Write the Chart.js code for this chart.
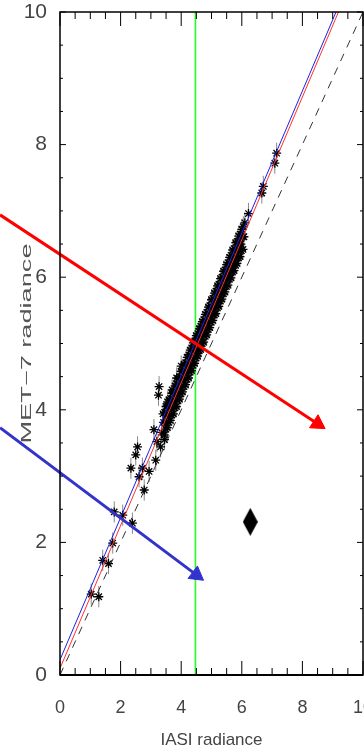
<!DOCTYPE html>
<html>
<head>
<meta charset="utf-8">
<script src="https://cdn.jsdelivr.net/npm/chart.js@4.4.1/dist/chart.umd.min.js"></script>
<style>
    html, body { margin: 0; padding: 0; background: #fff; overflow: hidden; }
</style>
</head>
<body>
<canvas id="c" width="364" height="751"></canvas>
<script>
// collocated IASI / MET-7 radiances
var iasiX = [
    // sparse low end
    1.03, 1.28, 1.41, 1.60, 1.74, 1.79, 2.07, 2.39, 2.34, 2.50, 2.56, 2.61, 2.72, 2.78, 2.94,
    3.10, 3.16, 3.20, 3.27, 3.32, 3.35, 3.25, 3.45,
    // dense band, upper edge
    3.40, 3.45, 3.50, 3.55, 3.60, 3.65, 3.70, 3.75, 3.80, 3.85, 3.90, 3.95, 4.00, 4.05, 4.10,
    4.15, 4.20, 4.25, 4.30, 4.35, 4.40, 4.45, 4.50, 4.55, 4.60, 4.65, 4.70, 4.75, 4.80, 4.85,
    4.90, 4.95, 5.00, 5.05, 5.10, 5.15, 5.20, 5.25, 5.30, 5.35, 5.40, 5.45, 5.50, 5.55, 5.60,
    5.65, 5.70, 5.75, 5.80, 5.85, 5.90, 5.95, 6.00, 6.05, 6.10,
    // dense band, middle
    3.42, 3.47, 3.52, 3.57, 3.62, 3.67, 3.72, 3.77, 3.82, 3.87, 3.92, 3.97, 4.02, 4.07, 4.12,
    4.17, 4.22, 4.27, 4.32, 4.37, 4.42, 4.47, 4.52, 4.57, 4.62, 4.67, 4.72, 4.77, 4.82, 4.87,
    4.92, 4.97, 5.02, 5.07, 5.12, 5.17, 5.22, 5.27, 5.32, 5.37, 5.42, 5.47, 5.52, 5.57, 5.62,
    5.67, 5.72, 5.77, 5.82, 5.87, 5.92, 5.97, 6.02, 6.07,
    // dense band, lower edge
    3.44, 3.49, 3.54, 3.59, 3.64, 3.69, 3.74, 3.79, 3.84, 3.89, 3.94, 3.99, 4.04, 4.09, 4.14,
    4.19, 4.24, 4.29, 4.34, 4.39, 4.44, 4.49, 4.54, 4.59, 4.64, 4.69, 4.74, 4.79, 4.84, 4.89,
    4.94, 4.99, 5.04, 5.09, 5.14, 5.19, 5.24, 5.29, 5.34, 5.39, 5.44, 5.49, 5.54, 5.59, 5.64,
    5.69, 5.74, 5.79, 5.84, 5.89, 5.94, 5.99, 6.04,
    // blob at the crossing and left-hand scatter of the band
    4.45, 4.50, 4.55, 4.60, 3.55, 3.70, 3.85, 4.00,
    // sparse high end
    6.22, 6.66, 6.71, 7.09, 7.15
];
var metY = [
    1.22, 1.18, 1.73, 1.68, 1.99, 2.46, 2.41, 2.29, 3.12, 3.32, 3.44, 2.99, 3.12, 2.79, 3.07,
    3.70, 3.24, 3.52, 4.35, 3.44, 3.66, 4.22, 3.55,

    3.94, 3.96, 4.05, 4.06, 4.15, 4.17, 4.25, 4.28, 4.36, 4.39, 4.47, 4.50, 4.58, 4.60, 4.69,
    4.71, 4.79, 4.83, 4.90, 4.93, 5.01, 5.03, 5.12, 5.15, 5.22, 5.26, 5.33, 5.36, 5.44, 5.47,
    5.55, 5.57, 5.66, 5.68, 5.76, 5.79, 5.87, 5.89, 5.98, 6.00, 6.09, 6.11, 6.19, 6.22, 6.30,
    6.33, 6.41, 6.43, 6.52, 6.54, 6.62, 6.65, 6.72, 6.76, 6.82,

    3.81, 3.80, 3.92, 3.91, 4.03, 4.02, 4.13, 4.13, 4.24, 4.24, 4.35, 4.34, 4.46, 4.45, 4.57,
    4.56, 4.67, 4.67, 4.78, 4.77, 4.89, 4.88, 5.00, 4.99, 5.10, 5.10, 5.21, 5.21, 5.32, 5.31,
    5.43, 5.42, 5.54, 5.53, 5.64, 5.64, 5.75, 5.74, 5.86, 5.85, 5.97, 5.96, 6.07, 6.07, 6.18,
    6.18, 6.29, 6.28, 6.40, 6.39, 6.50, 6.50, 6.61, 6.61,

    3.62, 3.71, 3.73, 3.81, 3.84, 3.92, 3.94, 4.03, 4.05, 4.14, 4.16, 4.24, 4.27, 4.35, 4.38,
    4.46, 4.48, 4.57, 4.59, 4.67, 4.70, 4.78, 4.81, 4.89, 4.91, 5.00, 5.02, 5.11, 5.13, 5.21,
    5.24, 5.32, 5.35, 5.43, 5.45, 5.54, 5.56, 5.64, 5.67, 5.75, 5.78, 5.86, 5.88, 5.97, 5.99,
    6.08, 6.10, 6.18, 6.21, 6.29, 6.31, 6.40, 6.42,

    4.98, 5.08, 4.86, 5.18, 4.12, 4.30, 4.48, 4.66,

    6.96, 7.27, 7.37, 7.72, 7.87
];
var ERR = 0.16;   // half length of the grey error bars

// regression lines and 1:1 reference
var redFitX = [0, 9.19];
var redFitY = [0.10, 10];
var blueFitX = [0, 9.11];
var blueFitY = [0.23, 10];
var oneToOneX = [0, 10];
var oneToOneY = [0, 10];
var greenX = [4.47, 4.47];
var greenY = [0, 10];

// annotation arrows (last point carries the head)
var redArrowX = [-1.98, 8.50];
var redArrowY = [6.94, 3.79];
var blueArrowX = [-1.98, 4.50];
var blueArrowY = [3.73, 1.51];
var diamondX = [6.28];
var diamondY = [2.31];

var xTicks = [0, 2, 4, 6, 8, 10];
var yTicks = [0, 2, 4, 6, 8, 10];
var X_TITLE = 'IASI radiance';
var Y_TITLE = 'MET\u22127 radiance';
var FONT = '"Liberation Sans", Arial, sans-serif';

var pairs = function ( xs, ys ) {
    return xs.map( function ( x, i ) { return { x: x, y: ys[ i ] }; } );
};

// tall black diamond marker
var diamond = document.createElement( 'canvas' );
diamond.width = 15;
diamond.height = 28;
var dctx = diamond.getContext( '2d' );
dctx.fillStyle = '#000';
dctx.beginPath();
dctx.moveTo( 7.5, 0 );
dctx.lineTo( 15, 14 );
dctx.lineTo( 7.5, 28 );
dctx.lineTo( 0, 14 );
dctx.closePath();
dctx.fill();

var errorBars = {
    id: 'errorBars',
    beforeDatasetsDraw: function ( chart ) {
        var ctx = chart.ctx, x = chart.scales.x, y = chart.scales.y;
        ctx.save();
        ctx.strokeStyle = '#8a8a8a';
        ctx.lineWidth = 1;
        ctx.beginPath();
        for ( var i = 0; i < iasiX.length; i++ ) {
            var px = x.getPixelForValue( iasiX[ i ] );
            ctx.moveTo( px, y.getPixelForValue( metY[ i ] - ERR ) );
            ctx.lineTo( px, y.getPixelForValue( metY[ i ] + ERR ) );
        }
        ctx.stroke();
        ctx.restore();
    }
};

// IDL style box with inward ticks on all four sides
var frame = {
    id: 'frame',
    afterDatasetsDraw: function ( chart ) {
        var ctx = chart.ctx, a = chart.chartArea, x = chart.scales.x, y = chart.scales.y;
        ctx.save();
        ctx.strokeStyle = '#000';
        ctx.lineWidth = 1;
        ctx.beginPath();
        x.ticks.forEach( function ( t ) {
            var px = x.getPixelForValue( t.value );
            var len = xTicks.indexOf( t.value ) >= 0 ? 14 : 7;
            ctx.moveTo( px, a.bottom );
            ctx.lineTo( px, a.bottom - len );
            ctx.moveTo( px, a.top );
            ctx.lineTo( px, a.top + len );
        } );
        y.ticks.forEach( function ( t ) {
            var py = y.getPixelForValue( t.value );
            var len = yTicks.indexOf( t.value ) >= 0 ? 6 : 3;
            ctx.moveTo( a.left, py );
            ctx.lineTo( a.left + len, py );
            ctx.moveTo( a.right, py );
            ctx.lineTo( a.right - len, py );
        } );
        ctx.stroke();
        ctx.lineWidth = 1.5;
        ctx.strokeRect( a.left, a.top, a.right - a.left, a.bottom - a.top );
        ctx.lineWidth = 2;
        ctx.beginPath();
        ctx.moveTo( a.left, a.bottom );
        ctx.lineTo( a.right, a.bottom );
        ctx.stroke();
        ctx.restore();
    }
};

// rotated y title, stretched along the axis like the original
var yTitle = {
    id: 'yTitle',
    afterDraw: function ( chart ) {
        var ctx = chart.ctx, a = chart.chartArea;
        ctx.save();
        ctx.translate( 27, ( a.top + a.bottom ) / 2 );
        ctx.rotate( -Math.PI / 2 );
        ctx.font = '14px ' + FONT;
        var w = ctx.measureText( Y_TITLE ).width;
        ctx.scale( 200 / w, 1 );
        ctx.textAlign = 'center';
        ctx.textBaseline = 'middle';
        ctx.fillStyle = '#555';
        ctx.fillText( Y_TITLE, 0, 0 );
        ctx.restore();
    }
};

var tickLabel = function ( list ) {
    return function ( value ) {
        return list.indexOf( value ) >= 0 ? String( value ) : '';
    };
};

new Chart( document.getElementById( 'c' ), {
    type: 'scatter',
    data: {
        datasets: [
            {
                data: pairs( redArrowX, redArrowY ), showLine: true, clip: false,
                borderColor: '#ff0000', borderWidth: 3,
                pointStyle: 'triangle', pointRadius: [ 0, 9 ], pointRotation: [ 0, 123 ],
                pointBackgroundColor: '#ff0000', pointBorderColor: '#ff0000', pointBorderWidth: 1
            },
            {
                data: pairs( blueArrowX, blueArrowY ), showLine: true, clip: false,
                borderColor: '#3333cc', borderWidth: 3,
                pointStyle: 'triangle', pointRadius: [ 0, 9 ], pointRotation: [ 0, 127 ],
                pointBackgroundColor: '#3333cc', pointBorderColor: '#3333cc', pointBorderWidth: 1
            },
            {
                data: pairs( diamondX, diamondY ), pointStyle: diamond, pointRadius: 8
            },
            {
                data: pairs( blueFitX, blueFitY ), showLine: true,
                borderColor: '#2020e0', borderWidth: 1, pointRadius: 0
            },
            {
                data: pairs( redFitX, redFitY ), showLine: true,
                borderColor: '#ff3030', borderWidth: 1, pointRadius: 0
            },
            {
                data: pairs( iasiX, metY ), pointStyle: 'star', pointRadius: 4.5,
                borderColor: '#000', backgroundColor: '#000', borderWidth: 1.3
            },
            {
                data: pairs( oneToOneX, oneToOneY ), showLine: true,
                borderColor: '#333', borderWidth: 1, borderDash: [ 8, 7 ], pointRadius: 0
            },
            {
                data: pairs( greenX, greenY ), showLine: true,
                borderColor: '#22ff22', borderWidth: 1.6, pointRadius: 0
            }
        ]
    },
    options: {
        responsive: false,
        animation: false,
        events: [],
        layout: { autoPadding: false, padding: { top: 12, right: 1, bottom: 0, left: 0 } },
        plugins: { legend: { display: false }, tooltip: { enabled: false } },
        scales: {
            x: {
                type: 'linear', min: 0, max: 10,
                grid: { display: false }, border: { display: false },
                ticks: {
                    stepSize: 0.5, autoSkip: false, maxRotation: 0, padding: 14,
                    color: '#444', font: { family: FONT, size: 18 },
                    callback: tickLabel( xTicks )
                },
                title: {
                    display: true, text: X_TITLE, color: '#444',
                    font: { family: FONT, size: 17 },
                    padding: { top: 2, bottom: 0 }
                },
                afterFit: function ( scale ) {
                    scale.height = 76;
                    scale.paddingLeft = 0;
                    scale.paddingRight = 0;
                }
            },
            y: {
                type: 'linear', min: 0, max: 10,
                grid: { display: false }, border: { display: false },
                ticks: {
                    stepSize: 0.5, autoSkip: false, padding: 5,
                    color: '#444', font: { family: FONT, size: 21 },
                    callback: tickLabel( yTicks )
                },
                afterFit: function ( scale ) {
                    scale.width = 60;
                    scale.paddingTop = 0;
                    scale.paddingBottom = 0;
                }
            }
        }
    },
    plugins: [ errorBars, frame, yTitle ]
} );
</script>
</body>
</html>
